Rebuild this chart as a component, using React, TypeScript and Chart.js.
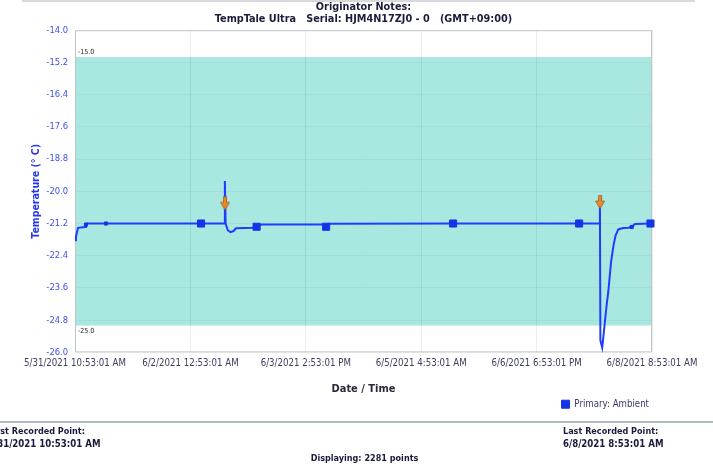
import React, { useEffect, useRef } from 'react';
import { Chart, registerables } from 'chart.js';

Chart.register(...registerables);

// ---- data (hours since 5/31/2021 10:53:01 AM, temperature °C) ----
const X_TICKS = [0, 38, 76, 114, 152, 190];
const X_TICK_LABELS = [
  '5/31/2021 10:53:01 AM',
  '6/2/2021 12:53:01 AM',
  '6/3/2021 2:53:01 PM',
  '6/5/2021 4:53:01 AM',
  '6/6/2021 6:53:01 PM',
  '6/8/2021 8:53:01 AM',
];
const Y_TICKS = [-26, -24.8, -23.6, -22.4, -21.2, -20, -18.8, -17.6, -16.4, -15.2, -14];

const HOURS = [
  0, 0.3, 0.7, 1.0, 3.3, 3.6, 3.8, 10.2, 41.5, 49.2, 49.35, 49.6, 50.3, 51.2, 52.2, 53.0,
  58.5, 59.8, 61.3, 81.8, 82.7, 83.6, 124.5, 166, 172.75, 172.85, 173.0, 173.6, 174.0,
  174.5, 175.0, 175.6, 176.5, 177.3, 178.0, 178.9, 180.5, 182.2, 183.3, 184.4, 189.5,
];
const TEMPS = [
  -21.82, -21.7, -21.5, -21.36, -21.33, -21.24, -21.2, -21.2, -21.2, -21.2, -19.62, -21.2,
  -21.45, -21.52, -21.48, -21.38, -21.36, -21.32, -21.24, -21.24, -21.32, -21.21, -21.2,
  -21.2, -21.2, -20.25, -25.55, -25.82, -25.4, -24.85, -24.3, -23.75, -22.65, -22.03,
  -21.65, -21.42, -21.37, -21.36, -21.33, -21.22, -21.2,
];
const MARKED_HOURS = [41.5, 59.8, 82.7, 124.5, 166, 189.5];
const SMALL_MARKED_HOURS = [10.2, 3.6, 183.3];
const ALARM_HOURS = [49.4, 172.9];
const ALARM_TEMPS = [-20.45, -20.4];
const LIMIT_HIGH = -15;
const LIMIT_LOW = -25;

const TITLE_LINES = ['Originator Notes:', 'TempTale Ultra   Serial: HJM4N17ZJ0 - 0   (GMT+09:00)'];
const SERIES_NAME = 'Primary: Ambient';
const FIRST_POINT = '5/31/2021 10:53:01 AM';
const LAST_POINT = '6/8/2021 8:53:01 AM';
const POINT_COUNT = 2281;

const FONT = '"DejaVu Sans Condensed", "DejaVu Sans", "Liberation Sans", sans-serif';

function makeArrow(): HTMLCanvasElement {
  const c = document.createElement('canvas');
  c.width = 10;
  c.height = 14;
  const g = c.getContext('2d')!;
  g.fillStyle = '#ec8a2a';
  g.strokeStyle = '#a3581c';
  g.lineWidth = 0.8;
  g.beginPath();
  g.moveTo(3.5, 0.5);
  g.lineTo(6.5, 0.5);
  g.lineTo(6.5, 6);
  g.lineTo(9.5, 6);
  g.lineTo(5, 13.5);
  g.lineTo(0.5, 6);
  g.lineTo(3.5, 6);
  g.closePath();
  g.fill();
  g.stroke();
  return c;
}

const bandPlugin = {
  id: 'limitBand',
  beforeDraw(chart: any) {
    const { ctx, chartArea, scales } = chart;
    const y = scales.y;
    const top = y.getPixelForValue(LIMIT_HIGH);
    const bottom = y.getPixelForValue(LIMIT_LOW);
    ctx.save();
    ctx.fillStyle = '#a8e8e0';
    ctx.fillRect(chartArea.left, top, chartArea.right - chartArea.left, bottom - top);
    ctx.fillStyle = '#222222';
    ctx.font = '7px ' + FONT;
    ctx.textAlign = 'left';
    ctx.textBaseline = 'bottom';
    ctx.fillText(LIMIT_HIGH.toFixed(1), chartArea.left + 3, top - 1);
    ctx.textBaseline = 'top';
    ctx.fillText(LIMIT_LOW.toFixed(1), chartArea.left + 3, bottom + 2);
    ctx.restore();
  },
  beforeDatasetsDraw(chart: any) {
    const { ctx, chartArea } = chart;
    ctx.save();
    ctx.strokeStyle = '#bfc4c8';
    ctx.lineWidth = 1;
    ctx.strokeRect(
      chartArea.left + 0.5,
      chartArea.top + 0.5,
      chartArea.right - chartArea.left - 1,
      chartArea.bottom - chartArea.top - 1
    );
    ctx.restore();
  },
};

function ChartView() {
  const ref = useRef<HTMLCanvasElement>(null);
  useEffect(() => {
    const arrow = makeArrow();
    const points = HOURS.map((h, i) => ({ x: h, y: TEMPS[i] }));
    const alarms = ALARM_HOURS.map((h, i) => ({ x: h, y: ALARM_TEMPS[i] }));
    const chart = new Chart(ref.current!, {
      type: 'line',
      data: {
        datasets: [
          {
            label: SERIES_NAME,
            data: points,
            borderColor: '#1e3cff',
            borderWidth: 2,
            backgroundColor: '#1434e6',
            pointBackgroundColor: '#1434e6',
            pointBorderColor: '#1434e6',
            pointBorderWidth: 1,
            pointStyle: 'rect',
            pointRadius: (c: any) => {
              const h = HOURS[c.dataIndex];
              if (MARKED_HOURS.includes(h)) return 5;
              if (SMALL_MARKED_HOURS.includes(h)) return 2.2;
              return 0;
            },
            tension: 0,
            clip: 8,
          } as any,
          {
            label: 'alarms',
            data: alarms,
            showLine: false,
            pointStyle: arrow as any,
            pointRadius: 6,
            order: -1,
          } as any,
        ],
      },
      options: {
        responsive: false,
        animation: false,
        events: [],
        layout: { padding: { left: 0, top: 0, right: 61, bottom: 48 } },
        plugins: {
          title: {
            display: true,
            text: TITLE_LINES,
            fullSize: false,
            color: '#1c1c3c',
            font: { family: FONT, size: 10.8, weight: 'bold', lineHeight: 1.12 },
            padding: { top: 1, bottom: 5 },
          },
          legend: {
            display: true,
            position: 'bottom',
            align: 'end',
            labels: {
              filter: (item: any) => item.datasetIndex === 0,
              usePointStyle: true,
              pointStyle: 'rect',
              boxWidth: 8,
              boxHeight: 8,
              padding: 3,
              color: '#3a3a6a',
              font: { family: FONT, size: 9.6 },
            },
          },
          tooltip: { enabled: false },
        },
        scales: {
          x: {
            type: 'linear',
            min: 0,
            max: 190,
            afterBuildTicks: (s: any) => {
              s.ticks = X_TICKS.map((v) => ({ value: v }));
            },
            afterFit: (s: any) => {
              s.height = 44;
            },
            ticks: {
              autoSkip: false,
              maxRotation: 0,
              padding: 5,
              color: '#3c3c5c',
              font: { family: FONT, size: 9.6 },
              callback: (v: any) => X_TICK_LABELS[X_TICKS.indexOf(Number(v))],
            },
            grid: { color: 'rgba(0,0,0,0.07)', drawTicks: false },
            border: { display: false },
            title: {
              display: true,
              text: 'Date / Time',
              color: '#2a2a3a',
              font: { family: FONT, size: 11, weight: 'bold', lineHeight: 1.2 },
              padding: { top: 0, bottom: 1 },
            },
          },
          y: {
            type: 'linear',
            min: -26,
            max: -14,
            afterBuildTicks: (s: any) => {
              s.ticks = Y_TICKS.map((v) => ({ value: v }));
            },
            afterFit: (s: any) => {
              s.width = 75;
            },
            ticks: {
              padding: 7,
              color: '#3e4ef2',
              font: { family: FONT, size: 9.3 },
              callback: (v: any) => Number(v).toFixed(1),
            },
            grid: { color: 'rgba(0,0,0,0.035)', drawTicks: false },
            border: { display: false },
            title: {
              display: true,
              text: 'Temperature (° C)',
              color: '#2436e8',
              font: { family: FONT, size: 10.5, weight: 'bold', lineHeight: 1.2 },
              padding: { top: 30, bottom: 0 },
            },
          },
        },
      } as any,
      plugins: [bandPlugin],
    });
    return () => chart.destroy();
  }, []);
  return <canvas ref={ref} width={713} height={467} style={{ position: 'absolute', left: 0, top: 0 }} />;
}

export default function App() {
  const txt: React.CSSProperties = {
    position: 'absolute',
    fontFamily: FONT,
    fontWeight: 'bold',
    fontSize: 9,
    lineHeight: '12px',
    color: '#1a1a3a',
    whiteSpace: 'nowrap',
  };
  return (
    <div style={{ position: 'fixed', left: 0, top: 0, width: 713, height: 467, background: '#fff', overflow: 'hidden' }}>
      <div style={{ position: 'absolute', left: 22, top: 0, width: 673, height: 2, background: '#d6dadd' }} />
      <ChartView />
      <div style={{ position: 'absolute', left: 0, top: 421, width: 713, height: 1.5, background: '#aebbc3' }} />
      <div style={{ ...txt, left: -12, top: 425 }}>First Recorded Point:</div>
      <div style={{ ...txt, left: -12, top: 438, fontSize: 9.6 }}>{FIRST_POINT}</div>
      <div style={{ ...txt, left: 563, top: 425 }}>Last Recorded Point:</div>
      <div style={{ ...txt, left: 563, top: 438, fontSize: 9.6 }}>{LAST_POINT}</div>
      <div style={{ ...txt, left: 0, width: 729, textAlign: 'center', top: 452 }}>
        {'Displaying: ' + POINT_COUNT + ' points'}
      </div>
    </div>
  );
}
